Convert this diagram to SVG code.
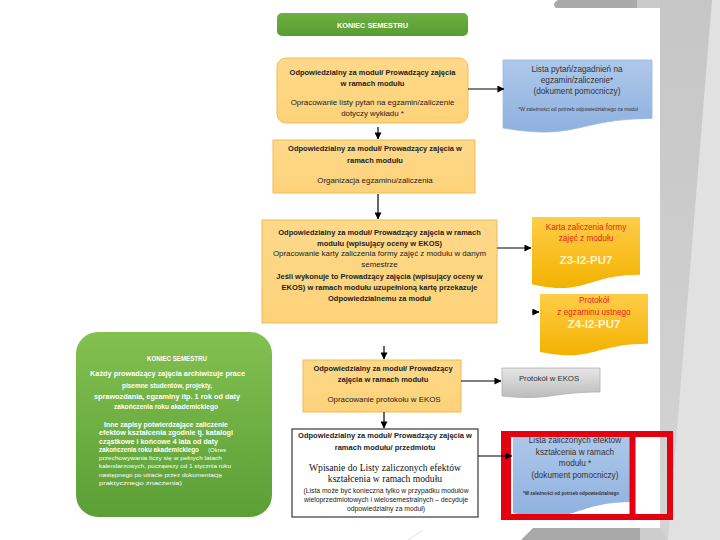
<svg xmlns="http://www.w3.org/2000/svg" width="720" height="540" viewBox="0 0 720 540">
<defs>
<linearGradient id="gGreenTop" x1="0" y1="0" x2="0" y2="1"><stop offset="0" stop-color="#6fb043"/><stop offset="1" stop-color="#5a9c33"/></linearGradient>
<linearGradient id="gGreenBig" x1="0" y1="0" x2="0" y2="1"><stop offset="0" stop-color="#82c050"/><stop offset="1" stop-color="#5c9f36"/></linearGradient>
<linearGradient id="gOrange" x1="0" y1="0" x2="0" y2="1"><stop offset="0" stop-color="#fed98a"/><stop offset="1" stop-color="#fdd279"/></linearGradient>
<linearGradient id="gBlue" x1="0" y1="0" x2="0" y2="1"><stop offset="0" stop-color="#aec8ea"/><stop offset="1" stop-color="#8eb1df"/></linearGradient>
<linearGradient id="gGold" x1="0" y1="0" x2="0" y2="1"><stop offset="0" stop-color="#ffcd48"/><stop offset="1" stop-color="#f3b200"/></linearGradient>
<linearGradient id="gGray" x1="0" y1="0" x2="0" y2="1"><stop offset="0" stop-color="#e6e6e6"/><stop offset="1" stop-color="#bcbcbc"/></linearGradient>
<linearGradient id="gSide" x1="0" y1="0" x2="0" y2="1"><stop offset="0" stop-color="#c6c6c6"/><stop offset="1" stop-color="#d4d4d4"/></linearGradient>
<marker id="ah" viewBox="0 0 8 8" refX="7.5" refY="4" markerWidth="7" markerHeight="7" markerUnits="userSpaceOnUse" orient="auto"><path d="M0,0 L8,4 L0,8 z" fill="#000"/></marker>
</defs>
<style>
text{font-family:"Liberation Sans",Arial,sans-serif;fill:#222;text-anchor:middle}
.b{font-weight:bold;font-size:7.5px}
.r{font-size:7.9px}
.w{fill:#fff;font-weight:bold;font-size:7.3px}
.red{fill:#e8231e;font-size:8.2px}
.code{font-weight:bold;font-size:11.4px;fill:#fff4c8}
.blu{fill:#333;font-size:8.2px}
.tiny{font-size:5px;fill:#333}
.orange{fill:url(#gOrange);stroke:#f2bb55;stroke-width:1}
.conn line{stroke:#000;stroke-width:1.2;marker-end:url(#ah)}
.l{text-anchor:start}
.g{font-size:7px;font-weight:bold;fill:#fff}
.gs{font-size:6px;fill:#fff}
.ser{font-family:"Liberation Serif","Times New Roman",serif;font-size:9.6px;fill:#111}
.sm{font-size:6.8px}
</style>
<rect x="0" y="0" width="720" height="540" fill="#fff"/>
<!-- slide background decorations -->
<rect x="660" y="0" width="60" height="540" fill="url(#gSide)"/>
<polygon points="712,0 720,0 720,540 668,540" fill="#e1e1e1"/>
<path d="M558,0 H637 V8 H556 Q551,4 558,0 Z" fill="#a9a9a9"/>
<rect x="637" y="0" width="23" height="8" fill="#c9c9c9"/>
<polygon points="533,528 640,528 640,540 521,540" fill="#a8a8a8"/>
<polygon points="640,528 660,528 668,540 640,540" fill="#cdcdcd"/>
<line x1="408" y1="540" x2="423" y2="530" stroke="#e2e2e2" stroke-width="1"/>

<g id="n_koniec_top">
<rect x="277" y="13" width="191" height="23" rx="5" fill="url(#gGreenTop)"/>
<text x="372.5" y="27.5" class="w">KONIEC SEMESTRU</text>
</g>

<g id="n_lista_pytan_prac">
<rect x="277" y="58" width="191" height="65" rx="9" class="orange"/>
<text x="372.5" y="74.5" class="b">Odpowiedzialny za moduł/ Prowadzący zajęcia</text>
<text x="372.5" y="85.5" class="b">w ramach modułu</text>
<text x="372.5" y="105" class="r">Opracowanie listy pytań na egzamin/zaliczenie</text>
<text x="372.5" y="116" class="r">dotyczy wykładu *</text>
</g>

<g id="n_lista_pytan_doc">
<path d="M503,60 H652 V118.5 C577.5,118.5 577.5,141 503,128 Z" fill="url(#gBlue)" stroke="#9db8e0" stroke-width="0.8"/>
<text x="577" y="71.5" class="blu">Lista pytań/zagadnień na</text>
<text x="577" y="82.5" class="blu">egzamin/zaliczenie*</text>
<text x="577" y="93.5" class="blu">(dokument pomocniczy)</text>
<text x="578" y="111" class="tiny">*W zależności od potrzeb odpowiedzialnego za moduł</text>
</g>

<g id="n_organizacja">
<rect x="273" y="140" width="202" height="53" class="orange"/>
<text x="375" y="151" class="b">Odpowiedzialny za moduł/ Prowadzący zajęcia w</text>
<text x="375" y="163" class="b">ramach modułu</text>
<text x="375" y="183" class="r">Organizacja egzaminu/zaliczenia</text>
</g>

<g id="n_karta_prac">
<rect x="262" y="220" width="235" height="103" class="orange"/>
<text x="379.5" y="234.5" class="b">Odpowiedzialny za moduł/ Prowadzący zajęcia w ramach</text>
<text x="379.5" y="245.5" class="b">modułu (wpisujący oceny w EKOS)</text>
<text x="379.5" y="256" class="r">Opracowanie karty zaliczenia formy zajęć z modułu w danym</text>
<text x="379.5" y="267" class="r">semestrze</text>
<text x="379.5" y="278.5" class="b">Jeśli wykonuje to Prowadzący zajęcia (wpisujący oceny w</text>
<text x="379.5" y="290" class="b">EKOS) w ramach modułu uzupełnioną kartę przekazuje</text>
<text x="379.5" y="301" class="b">Odpowiedzialnemu za moduł</text>
</g>

<g id="n_karta_doc">
<path d="M532,217 H640 V274.7 C586,274.7 586,296.7 532,284.2 Z" fill="url(#gGold)"/>
<text x="586" y="229.5" class="red">Karta zaliczenia formy</text>
<text x="586" y="240.5" class="red">zajęć z modułu</text>
<text x="586" y="264" class="code">Z3-I2-PU7</text>
</g>

<g id="n_protokol_doc">
<path d="M540,294 H648 V343.7 C594,343.7 594,362.6 540,352 Z" fill="url(#gGold)"/>
<text x="594" y="302.5" class="red">Protokół</text>
<text x="594" y="315" class="red">z egzaminu ustnego</text>
<text x="594" y="327.5" class="code">Z4-I2-PU7</text>
</g>

<g id="n_koniec_big">
<rect x="76" y="332" width="196" height="185" rx="22" fill="url(#gGreenBig)"/>
<text x="177" y="360.5" class="g" textLength="60" lengthAdjust="spacingAndGlyphs">KONIEC SEMESTRU</text>
<text x="167.5" y="375.5" class="g" textLength="155" lengthAdjust="spacingAndGlyphs">Każdy prowadzący zajęcia archiwizuje prace</text>
<text x="167" y="388" class="g" textLength="90" lengthAdjust="spacingAndGlyphs">pisemne studentów, projekty,</text>
<text x="167" y="398.5" class="g" textLength="146" lengthAdjust="spacingAndGlyphs">sprawozdania, egzaminy itp. 1 rok od daty</text>
<text x="166" y="408.5" class="g" textLength="104" lengthAdjust="spacingAndGlyphs">zakończenia roku akademickiego</text>
<text x="104" y="426.5" class="g l" textLength="124" lengthAdjust="spacingAndGlyphs">Inne zapisy potwierdzające zaliczenie</text>
<text x="99" y="434.5" class="g l" textLength="134" lengthAdjust="spacingAndGlyphs">efektów kształcenia zgodnie tj. katalogi</text>
<text x="99" y="443.5" class="g l" textLength="119" lengthAdjust="spacingAndGlyphs">cząstkowe i końcowe 4 lata od daty</text>
<text x="99" y="452" class="g l" textLength="100" lengthAdjust="spacingAndGlyphs">zakończenia roku akademickiego</text>
<text x="208" y="452" class="gs l">(Okres</text>
<text x="99" y="460" class="gs l" textLength="123" lengthAdjust="spacingAndGlyphs">przechowywania liczy się w pełnych latach</text>
<text x="99" y="468" class="gs l" textLength="132" lengthAdjust="spacingAndGlyphs">kalendarzowych, począwszy od 1 stycznia roku</text>
<text x="99" y="476.5" class="gs l" textLength="123" lengthAdjust="spacingAndGlyphs">następnego po utracie przez dokumentację</text>
<text x="99" y="484.5" class="gs l" textLength="83" lengthAdjust="spacingAndGlyphs">praktycznego znaczenia)</text>
</g>

<g id="n_protokol_prac">
<rect x="303" y="360" width="158" height="52" class="orange"/>
<text x="383" y="370.5" class="b">Odpowiedzialny za moduł/ Prowadzący</text>
<text x="383" y="381.5" class="b">zajęcia w ramach modułu</text>
<text x="384" y="401.5" class="r">Opracowanie protokołu w EKOS</text>
</g>

<g id="n_protokol_ekos">
<path d="M502,368 H600 V392 C551,392 551,401 502,396 Z" fill="url(#gGray)" stroke="#b0b0b0" stroke-width="0.8"/>
<text x="549" y="381" style="font-size:7.8px;fill:#333">Protokół w EKOS</text>
</g>

<g id="n_wpisanie">
<rect x="292" y="429" width="186" height="88" fill="#fff" stroke="#111" stroke-width="1"/>
<text x="385" y="438" class="b">Odpowiedzialny za moduł/ Prowadzący zajęcia w</text>
<text x="385" y="450" class="b">ramach modułu/ przedmiotu</text>
<text x="385" y="471" class="ser">Wpisanie do Listy zaliczonych efektów</text>
<text x="385" y="482" class="ser">kształcenia w ramach modułu</text>
<text x="386" y="493" class="sm">(Lista może być konieczna tylko w przypadku modułów</text>
<text x="386" y="501.5" class="sm">wieloprzedmiotowych i wielosemestralnych – decyduje</text>
<text x="386" y="511" class="sm">odpowiedzialny za moduł)</text>
</g>

<g id="n_lista_efektow_doc">
<path d="M513,433 H632 V502 C572.5,502 572.5,528 513,513 Z" fill="url(#gBlue)"/>
<text x="575" y="443" class="blu">Lista zaliczonych efektów</text>
<text x="575" y="455" class="blu">kształcenia w ramach</text>
<text x="575" y="466" class="blu">modułu *</text>
<text x="575" y="478" class="blu">(dokument pomocniczy)</text>
<text x="571" y="495" class="tiny" style="font-weight:bold;font-size:4.6px">*W zależności od potrzeb odpowiedzialnego</text>
</g>

<g id="highlight" fill="none" stroke="#e3000f">
<rect x="504" y="434" width="166" height="83" stroke-width="6"/>
<line x1="632.5" y1="434" x2="632.5" y2="517" stroke-width="6"/>
<line x1="509" y1="434" x2="509" y2="517" stroke-width="4"/>
</g>

<g id="connectors" class="conn">
<line x1="468" y1="89" x2="504" y2="89"/>
<line x1="378" y1="127" x2="378" y2="139"/>
<line x1="378" y1="194" x2="378" y2="219"/>
<line x1="497" y1="248" x2="531" y2="248"/>
<line x1="532" y1="312" x2="539" y2="312"/>
<line x1="384" y1="346" x2="384" y2="359"/>
<line x1="461" y1="381" x2="501" y2="381"/>
<line x1="384" y1="412" x2="384" y2="428"/>
<line x1="478" y1="456" x2="512" y2="456"/>
</g>
</svg>
